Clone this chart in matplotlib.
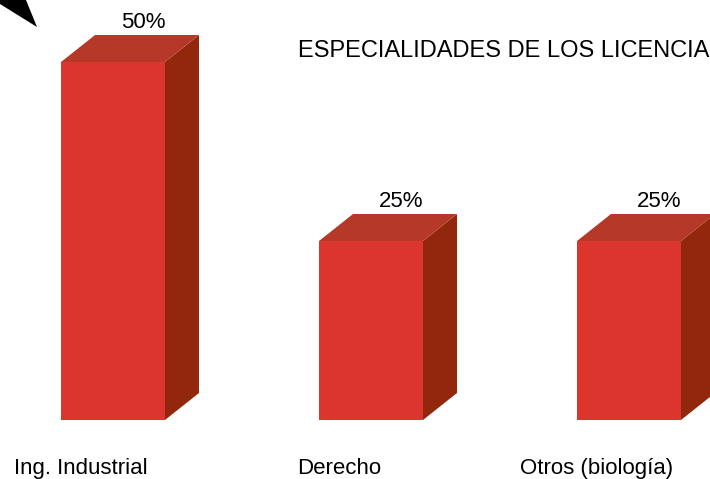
import matplotlib.pyplot as plt
from matplotlib.patches import Polygon

# Datos del gráfico
categorias = ["Ing. Industrial", "Derecho", "Otros (biología)"]
porcentajes = [50, 25, 25]
etiquetas = ["50%", "25%", "25%"]
titulo = "ESPECIALIDADES DE LOS LICENCIADOS"

# Colores de las caras de las barras
c_frente = "#DC352D"
c_arriba = "#B53828"
c_lado = "#92270B"

plt.rcParams['font.family'] = ['Liberation Sans', 'DejaVu Sans']

fig = plt.figure(figsize=(7.1, 4.79), dpi=100)
ax = fig.add_axes([0, 0, 1, 1])
ax.set_xlim(-0.438, 2.314)
ax.set_ylim(-8.24, 58.66)
ax.axis("off")

ancho = 0.403
# profundidad en pixeles convertida a unidades de datos
px_x = (2.314 + 0.438) / 710
px_y = (58.66 + 8.24) / 479
dx = 34 * px_x
dy = 27 * px_y

for i, v in enumerate(porcentajes):
    x0 = i - ancho / 2
    x1 = i + ancho / 2
    # cara lateral
    ax.add_patch(Polygon([(x1, 0), (x1 + dx, dy), (x1 + dx, v + dy), (x1, v)],
                         closed=True, facecolor=c_lado, edgecolor="none"))
    # cara superior
    ax.add_patch(Polygon([(x0, v), (x0 + dx, v + dy), (x1 + dx, v + dy), (x1, v)],
                         closed=True, facecolor=c_arriba, edgecolor="none"))
    # frente
    ax.add_patch(Polygon([(x0, 0), (x0, v), (x1, v), (x1, 0)],
                         closed=True, facecolor=c_frente, edgecolor="none"))
    # etiqueta de valor
    ax.annotate(etiquetas[i], (i + dx * 0.9, v + dy), xytext=(0, 5),
                textcoords="offset points", ha="center", va="baseline",
                fontsize=16)
    # nombre de la categoria
    ax.text(i - 0.125, -7.5, categorias[i], ha="center", va="baseline",
            fontsize=16)

# Titulo (cortado por el borde derecho como en el original)
fig.text(298 / 710, 1 - 57 / 479, titulo, ha="left", va="baseline", fontsize=17)

# Punta de flecha negra en la esquina
fig.patches.append(Polygon([(0, 1), (26 / 710, 1), (37 / 710, 1 - 27 / 479), (0, 1 - 4 / 479)],
                           closed=True, facecolor="black", edgecolor="none",
                           transform=fig.transFigure, figure=fig))

fig.savefig("out.png", dpi=100)
